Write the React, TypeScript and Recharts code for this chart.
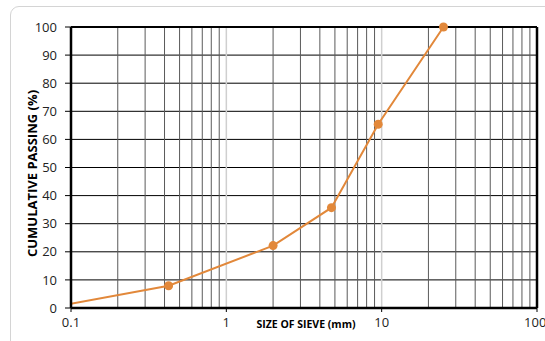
import React from 'react';
import {
  LineChart,
  Line,
  XAxis,
  YAxis,
  CartesianGrid,
  ReferenceLine,
  Label,
} from 'recharts';

// sieve opening (mm) and cumulative passing (%)
const sieveSizes = [0.075, 0.425, 2, 4.75, 9.5, 25];
const passing = [0.2, 7.9, 22.2, 35.7, 65.4, 100];

const xTicks = [0.1, 1, 10, 100];
const yTicks = [0, 10, 20, 30, 40, 50, 60, 70, 80, 90, 100];

// log-cycle grid lines: 2..9 inside each decade
const minorLines = [0.2, 0.3, 0.4, 0.5, 0.6, 0.7, 0.8, 0.9, 2, 3, 4, 5, 6, 7, 8, 9, 20, 30, 40, 50, 60, 70, 80, 90];
const decadeLines = [1, 10];

const data = sieveSizes.map((size, i) => ({ size, passing: passing[i] }));

const ORANGE = '#E2883A';
const FONT = '"Open Sans", "Liberation Sans", sans-serif';

function YTitle({ viewBox }: any) {
  const cx = viewBox.x + 11;
  const cy = viewBox.y + viewBox.height / 2 + 6;
  return (
    <text
      x={cx}
      y={cy}
      transform={`rotate(-90, ${cx}, ${cy})`}
      textAnchor="middle"
      dominantBaseline="central"
      fontFamily={FONT}
      fontSize={13}
      fontWeight={700}
      fill="#000"
    >
      CUMULATIVE PASSING (%)
    </text>
  );
}

export default function App() {
  return (
    <div
      style={{
        position: 'fixed',
        left: 0,
        top: 0,
        width: 545,
        height: 341,
        overflow: 'hidden',
        background: '#fff',
      }}
    >
      <div
        style={{
          position: 'absolute',
          left: 10,
          top: 6,
          width: 600,
          height: 400,
          border: '1px solid #d4d4d4',
          borderRadius: 9,
        }}
      />
      <div style={{ position: 'absolute', left: 0, top: 0 }}>
        <LineChart
          width={545}
          height={341}
          data={data}
          margin={{ top: 27, right: 8, bottom: 3, left: 21 }}
        >
          <CartesianGrid vertical={false} stroke="#000" strokeWidth={1} />
          {decadeLines.map((v) => (
            <ReferenceLine key={`d${v}`} x={v} stroke="#cfcfcf" strokeWidth={1.5} />
          ))}
          {minorLines.map((v) => (
            <ReferenceLine key={`m${v}`} x={v} stroke="#5a5a5a" strokeWidth={1} />
          ))}
          <ReferenceLine y={100} stroke="#000" strokeWidth={2} />
          <ReferenceLine x={100} stroke="#000" strokeWidth={2.5} />
          <XAxis
            dataKey="size"
            type="number"
            scale="log"
            domain={[0.1, 100]}
            ticks={xTicks}
            allowDataOverflow
            height={30}
            tickSize={4}
            tickMargin={6}
            axisLine={{ stroke: '#000', strokeWidth: 2.5 }}
            tickLine={{ stroke: '#000' }}
            tick={{ fill: '#222', fontSize: 13, fontFamily: FONT }}
          >
            <Label
              value="SIZE OF SIEVE (mm)"
              position="insideBottom"
              offset={10}
              dx={2}
              style={{ fontFamily: FONT, fontSize: 10.5, fontWeight: 700, fill: '#000' }}
            />
          </XAxis>
          <YAxis
            type="number"
            domain={[0, 100]}
            ticks={yTicks}
            width={50}
            tickSize={6}
            tickMargin={8}
            axisLine={{ stroke: '#000', strokeWidth: 2.5 }}
            tickLine={{ stroke: '#000' }}
            tick={{ fill: '#222', fontSize: 13, fontFamily: FONT }}
          >
            <Label content={<YTitle />} />
          </YAxis>
          <Line
            type="linear"
            dataKey="passing"
            stroke={ORANGE}
            strokeWidth={2}
            dot={(props: any) =>
              props.payload.size < 0.1 ? (
                <g key={props.index} />
              ) : (
                <circle key={props.index} cx={props.cx} cy={props.cy} r={4.5} fill={ORANGE} stroke="none" />
              )
            }
            isAnimationActive={false}
          />
        </LineChart>
      </div>
    </div>
  );
}
